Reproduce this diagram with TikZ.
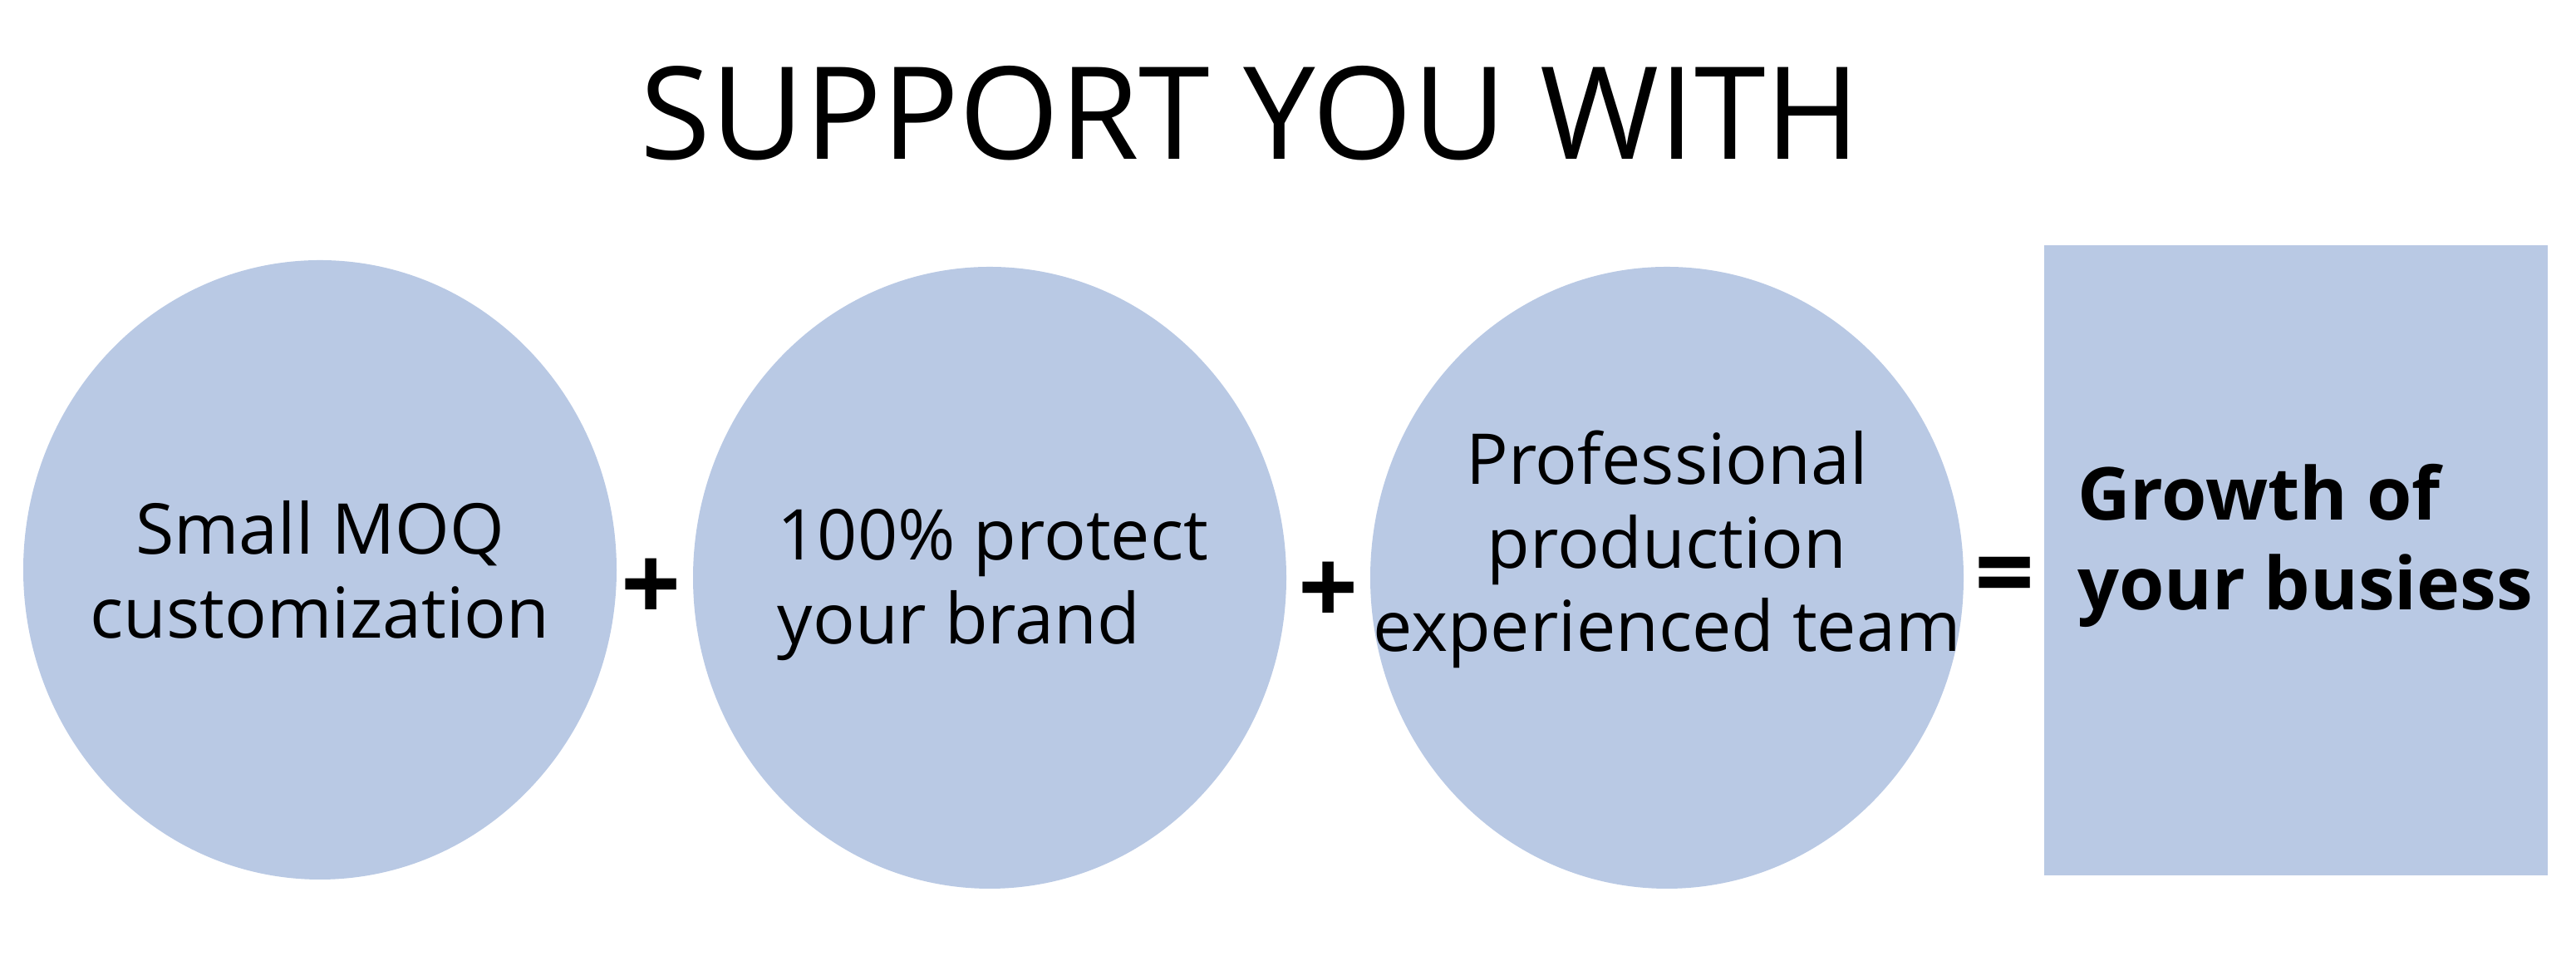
\documentclass[tikz,border=0pt]{standalone}
\usepackage{fontspec}
\setmainfont{Open Sans}
\usetikzlibrary{shapes.geometric,positioning}
\definecolor{bubble}{RGB}{185,201,228}

\begin{document}
\begin{tikzpicture}[bub/.style={ellipse,fill=bubble,minimum width=7.14cm,minimum height=7.48cm,inner sep=0pt},
 txt/.style={font=\fontsize{24}{28.7}\selectfont,align=center,inner sep=0pt},
 sign/.style={font=\fontsize{36}{40}\selectfont\bfseries,inner sep=0pt}]
\useasboundingbox (0,0) rectangle (31,11.5);
\node[font=\fontsize{44}{50}\selectfont,anchor=base] (title) at (15.05,9.58) {SUPPORT YOU WITH};
% the three bubbles and the result box
\node[bub,minimum height=7.45cm] (moq) at (3.85,4.645) {}; \node[bub] (brand) at (11.91,4.55) {}; \node[bub] (team) at (20.06,4.55) {};
\node[fill=bubble,minimum width=6.06cm,minimum height=7.58cm,inner sep=0pt] (growth) at (27.63,4.76) {};
\node[txt] (moqtxt) at (moq) {Small MOQ\\customization};
\node[txt,align=left,anchor=west] (brandtxt) at ([xshift=-2.56cm,yshift=-0.085cm]brand.center) {100\% protect\\your brand};
\node[txt] (teamtxt) at ([yshift=0.34cm]team.center) {Professional\\production\\experienced team};
\node[txt,font=\fontsize{25}{30.6}\selectfont\bfseries,align=left,anchor=west] (growthtxt) at ([xshift=0.4cm,yshift=0.175cm]growth.west) {Growth of\\your busiess};
% signs in between
\node[sign] (plusa) at (7.84,4.4) {+}; \node[sign] (plusb) at (15.99,4.36) {+}; \node[sign] (equals) at (24.13,4.48) {=};
\end{tikzpicture}
\end{document}
